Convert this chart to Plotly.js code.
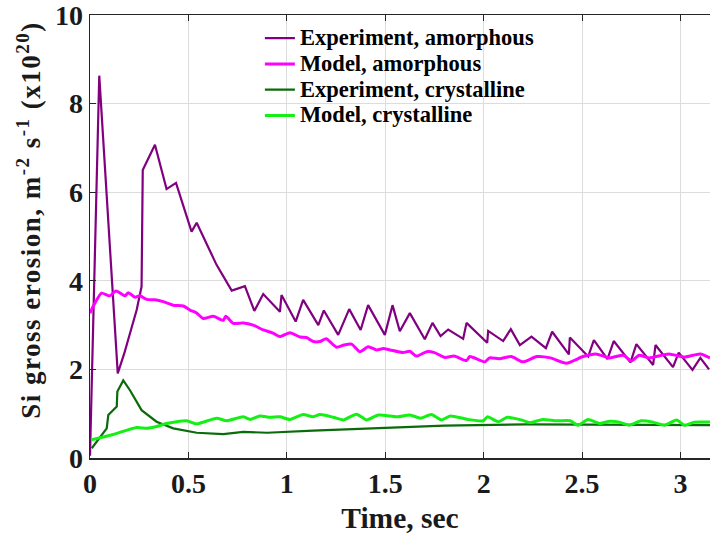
<!DOCTYPE html>
<html>
<head>
<meta charset="utf-8">
<script src="https://cdn.plot.ly/plotly-3.0.1.min.js"></script>
<style>html,body{margin:0;padding:0;background:#fff;}#chart{width:710px;height:535px;}</style>
</head>
<body>
<div id="chart"></div>
<script>
// Experiment, amorphous
const expAmT = [0, 0.047, 0.141, 0.174, 0.237, 0.262, 0.268, 0.33, 0.389, 0.437, 0.516, 0.542, 0.643, 0.72, 0.787, 0.835, 0.88, 0.965, 0.973, 1.045, 1.083, 1.16, 1.188, 1.261, 1.317, 1.375, 1.413, 1.498, 1.537, 1.574, 1.625, 1.701, 1.74, 1.781, 1.82, 1.896, 1.913, 2.018, 2.023, 2.099, 2.138, 2.184, 2.243, 2.316, 2.348, 2.433, 2.438, 2.531, 2.56, 2.629, 2.661, 2.746, 2.776, 2.861, 2.873, 2.962, 2.991, 3.061, 3.101, 3.145];
const expAmY = [0.05, 8.63, 1.91, 2.36, 3.34, 3.87, 6.5, 7.07, 6.07, 6.21, 5.11, 5.31, 4.36, 3.78, 3.88, 3.32, 3.70, 3.30, 3.68, 3.08, 3.57, 3.00, 3.33, 2.78, 3.36, 2.89, 3.45, 2.78, 3.45, 2.86, 3.27, 2.68, 3.05, 2.75, 2.90, 2.69, 3.05, 2.60, 2.87, 2.64, 2.91, 2.55, 2.74, 2.48, 2.85, 2.34, 2.72, 2.29, 2.66, 2.23, 2.64, 2.16, 2.57, 2.10, 2.55, 2.05, 2.38, 1.99, 2.26, 2.00];

// Model, amorphous
const modAmT = [0, 0.017, 0.059, 0.10, 0.132, 0.178, 0.195, 0.229, 0.254, 0.288, 0.33, 0.372, 0.423, 0.474, 0.508, 0.54, 0.575, 0.626, 0.677, 0.69, 0.728, 0.78, 0.829, 0.88, 0.93, 0.965, 1.016, 1.067, 1.1, 1.134, 1.168, 1.2, 1.253, 1.29, 1.329, 1.371, 1.413, 1.456, 1.49, 1.524, 1.59, 1.625, 1.659, 1.71, 1.75, 1.803, 1.85, 1.913, 1.93, 2.006, 2.03, 2.08, 2.14, 2.2, 2.27, 2.34, 2.42, 2.505, 2.57, 2.64, 2.71, 2.75, 2.79, 2.84, 2.94, 3.02, 3.10, 3.15];
const modAmY = [3.27, 3.43, 3.72, 3.66, 3.77, 3.66, 3.73, 3.63, 3.66, 3.58, 3.57, 3.53, 3.45, 3.43, 3.34, 3.28, 3.15, 3.20, 3.11, 3.20, 3.04, 3.05, 3.00, 2.89, 2.82, 2.74, 2.83, 2.73, 2.72, 2.63, 2.63, 2.69, 2.50, 2.55, 2.57, 2.40, 2.51, 2.44, 2.47, 2.44, 2.38, 2.41, 2.30, 2.40, 2.38, 2.27, 2.30, 2.20, 2.29, 2.17, 2.26, 2.24, 2.29, 2.17, 2.29, 2.26, 2.14, 2.29, 2.35, 2.26, 2.32, 2.19, 2.32, 2.26, 2.35, 2.28, 2.35, 2.26];

// Experiment, crystalline
const expCrT = [0.009, 0.085, 0.093, 0.136, 0.139, 0.169, 0.203, 0.262, 0.338, 0.423, 0.542, 0.677, 0.779, 0.9, 1.134, 1.473, 1.8, 2.218, 2.6, 3.15];
const expCrY = [0.22, 0.67, 0.97, 1.16, 1.50, 1.75, 1.53, 1.08, 0.82, 0.67, 0.57, 0.54, 0.59, 0.57, 0.62, 0.68, 0.73, 0.76, 0.75, 0.74];

// Model, crystalline
const modCrT = [0.005, 0.118, 0.237, 0.288, 0.338, 0.389, 0.491, 0.542, 0.643, 0.694, 0.779, 0.813, 0.863, 0.914, 0.965, 1.016, 1.083, 1.134, 1.168, 1.236, 1.287, 1.354, 1.405, 1.465, 1.56, 1.625, 1.68, 1.735, 1.786, 1.83, 1.92, 1.998, 2.02, 2.074, 2.12, 2.19, 2.235, 2.3, 2.37, 2.44, 2.48, 2.53, 2.59, 2.64, 2.69, 2.74, 2.8, 2.86, 2.92, 2.98, 3.02, 3.07, 3.15];
const modCrY = [0.41, 0.53, 0.69, 0.67, 0.71, 0.78, 0.84, 0.77, 0.90, 0.84, 0.93, 0.87, 0.95, 0.92, 0.93, 0.87, 0.98, 0.93, 0.98, 0.92, 0.86, 0.99, 0.86, 0.97, 0.93, 0.97, 0.90, 0.98, 0.86, 0.95, 0.87, 0.84, 0.93, 0.82, 0.92, 0.86, 0.80, 0.87, 0.84, 0.84, 0.74, 0.87, 0.78, 0.83, 0.81, 0.74, 0.84, 0.81, 0.74, 0.86, 0.74, 0.81, 0.81];

const seriesNames = ["Experiment, amorphous", "Model, amorphous", "Experiment, crystalline", "Model, crystalline"];
const xTicks = [0, 0.5, 1, 1.5, 2, 2.5, 3];
const xTickText = ["0", "0.5", "1", "1.5", "2", "2.5", "3"];
const yTicks = [0, 2, 4, 6, 8, 10];
const xTitle = "Time, sec";
const yTitle = "Si gross erosion, m<sup>-2</sup> s<sup>-1</sup> (x10<sup>20</sup>)";

const FONT = "Liberation Serif, Times New Roman, serif";
const legendName = n => '<span style="font-size:22.5px">' + n + '</span>';

const traces = [
  {x: expAmT, y: expAmY, name: legendName(seriesNames[0]), mode: "lines", line: {color: "#800080", width: 2.2}},
  {x: modAmT, y: modAmY, name: legendName(seriesNames[1]), mode: "lines", line: {color: "#ff00ff", width: 3, shape: "spline", smoothing: 0.6}},
  {x: expCrT, y: expCrY, name: legendName(seriesNames[2]), mode: "lines", line: {color: "#0b6b0b", width: 2.2}},
  {x: modCrT, y: modCrY, name: legendName(seriesNames[3]), mode: "lines", line: {color: "#14f014", width: 3, shape: "spline", smoothing: 0.6}}
];

const layout = {
  width: 710, height: 535,
  margin: {l: 90, r: 0, t: 15, b: 77},
  paper_bgcolor: "#fff", plot_bgcolor: "#fff",
  font: {family: FONT, color: "#1a1a1a", weight: "bold"},
  showlegend: true,
  legend: {
    x: 0.274, y: 0.988, xanchor: "left", yanchor: "top",
    bgcolor: "rgba(255,255,255,0)", borderwidth: 0,
    font: {family: FONT, size: 17.5, color: "#000", weight: "bold"},
    tracegroupgap: 0
  },
  xaxis: {
    range: [0, 3.15], tickvals: xTicks, ticktext: xTickText,
    showgrid: true, gridcolor: "#dcdcdc", gridwidth: 1,
    showline: true, linecolor: "#262626", linewidth: 1.5, mirror: "ticks",
    ticks: "inside", ticklen: 6, tickcolor: "#262626",
    zeroline: false, ticklabeloverflow: "allow",
    tickfont: {family: FONT, size: 28, color: "#1a1a1a", weight: "bold"},
    title: {text: xTitle, font: {family: FONT, size: 29.5, color: "#1a1a1a", weight: "bold"}, standoff: 9}
  },
  yaxis: {
    range: [0, 10], tickvals: yTicks,
    showgrid: true, gridcolor: "#dcdcdc", gridwidth: 1,
    showline: true, linecolor: "#262626", linewidth: 1.5, mirror: false,
    ticks: "inside", ticklen: 6, tickcolor: "#262626",
    zeroline: false, ticklabeloverflow: "allow",
    tickfont: {family: FONT, size: 28, color: "#1a1a1a", weight: "bold"},
    title: {text: '<span style="letter-spacing:1.5px">\u00a0\u00a0\u00a0\u00a0' + yTitle + '</span>', font: {family: FONT, size: 27, color: "#1a1a1a", weight: "bold"}, standoff: 6}
  }
};

Plotly.newPlot("chart", traces, layout, {staticPlot: true, displayModeBar: false});
</script>
</body>
</html>
